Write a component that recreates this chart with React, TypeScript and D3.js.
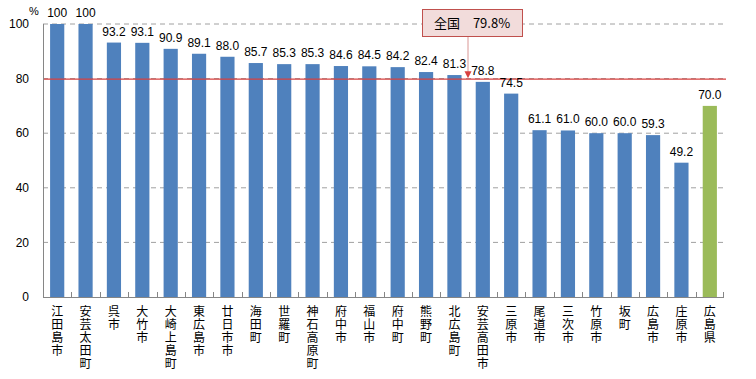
import React from "react";
import * as d3 from "d3";

const categories = ["江田島市","安芸太田町","呉市","大竹市","大崎上島町","東広島市","廿日市市","海田町","世羅町","神石高原町","府中市","福山市","府中町","熊野町","北広島町","安芸高田市","三原市","尾道市","三次市","竹原市","坂町","広島市","庄原市","広島県"];
const values = [100,100,93.2,93.1,90.9,89.1,88.0,85.7,85.3,85.3,84.6,84.5,84.2,82.4,81.3,78.8,74.5,61.1,61.0,60.0,60.0,59.3,49.2,70.0];
const yTicks = [0,20,40,60,80,100];
const nationalValue = 79.8;
const nationalLabel = "全国　79.8%";

const W = 756, H = 379;
const left = 43, right = 724, top = 24, bottom = 297;

export default function App() {
  const x = d3.scaleBand<string>().domain(categories).range([left, right]).paddingInner(0.5).paddingOuter(0.25);
  const band = d3.scaleBand<string>().domain(categories).range([left, right]);
  const y = d3.scaleLinear().domain([0, 100]).range([bottom, top]);
  const numFont = "'Liberation Sans', Arial, sans-serif";
  const jpFont = "'Noto Sans CJK JP', sans-serif";
  const natY = y(nationalValue);
  const arrowX = 468;
  return (
    <svg width={W} height={H} style={{ position: "absolute", left: 0, top: 0, background: "#fff" }}>
      {yTicks.filter(t => t > 0).map(t => (
        <line key={t} x1={left} x2={right} y1={y(t)} y2={y(t)} stroke="#a0a0a0" strokeDasharray="5,4" strokeWidth={1} />
      ))}
      {categories.map((c, i) => (
        <rect key={c} x={x(c)} y={y(values[i])} width={x.bandwidth()} height={bottom - y(values[i])}
          fill={i === categories.length - 1 ? "#9bbb59" : "#4f81bd"} />
      ))}
      <line x1={left} x2={right + 2} y1={natY} y2={natY} stroke="#d8403f" strokeWidth={1.3} />
      <line x1={left + 0.5} x2={left + 0.5} y1={top} y2={bottom} stroke="#868686" />
      <line x1={left} x2={right} y1={bottom + 0.5} y2={bottom + 0.5} stroke="#868686" />
      {categories.map((c, i) => i > 0 ? (
        <line key={"t" + c} x1={Math.round(band(c)!) + 0.5} x2={Math.round(band(c)!) + 0.5} y1={bottom - 5} y2={bottom} stroke="#868686" />
      ) : null)}
      <line x1={right - 0.5} x2={right - 0.5} y1={bottom - 5} y2={bottom} stroke="#868686" />
      {yTicks.map(t => (
        <text key={"y" + t} x={29} y={y(t)} dy="0.35em" textAnchor="end" fontSize={12} fontFamily={numFont} fill="#000">{t}</text>
      ))}
      <text x={34} y={11} dy="0.35em" textAnchor="middle" fontSize={11} fontFamily={numFont}>%</text>
      {categories.map((c, i) => (
        <text key={"v" + c} x={x(c)! + x.bandwidth() / 2} y={y(values[i]) - 7} textAnchor="middle" fontSize={12} fontFamily={numFont}>
          {values[i] === 100 ? "100" : values[i].toFixed(1)}
        </text>
      ))}
      {categories.map((c) => (
        <text key={"c" + c} x={x(c)! + x.bandwidth() / 2} y={305} fontSize={12} fontFamily={jpFont}
          style={{ writingMode: "vertical-rl" as any, letterSpacing: "1px" }}>{c}</text>
      ))}
      <line x1={arrowX} x2={arrowX} y1={36} y2={natY - 6} stroke="#d99694" strokeWidth={1} />
      <path d={`M${arrowX - 3.5},${natY - 8} L${arrowX + 3.5},${natY - 8} L${arrowX},${natY - 1} Z`} fill="#d8403f" />
      <rect x={422.5} y={9.5} width={100} height={27} fill="#f2dcdb" stroke="#c0504d" strokeWidth={1} />
      <text x={472} y={23} dy="0.35em" textAnchor="middle" fontSize={13} fontFamily={jpFont}>{nationalLabel}</text>
    </svg>
  );
}
